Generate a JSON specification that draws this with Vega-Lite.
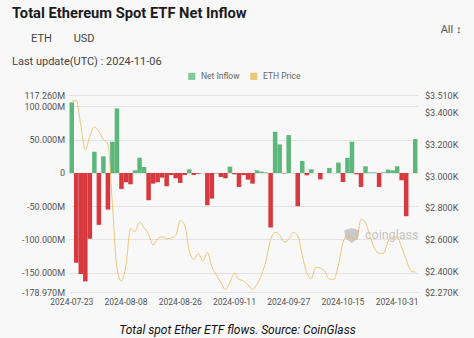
{
  "$schema": "https://vega.github.io/schema/vega-lite/v6.json",
  "width": 348,
  "height": 197,
  "autosize": {"type": "none"},
  "padding": {"left": 69.5, "top": 95, "right": 56.5, "bottom": 46},
  "background": "#f8f8f8",
  "config": {
    "font": "Roboto",
    "view": {"stroke": null}
  },
  "title": {
    "text": "Total Ethereum Spot ETF Net Inflow",
    "subtitle": ["\u200b\u00a0\u00a0\u00a0\u00a0\u00a0\u00a0\u00a0ETH\u00a0\u00a0\u00a0\u00a0\u00a0\u00a0\u00a0\u00a0USD", "Last update(UTC) : 2024-11-06"],
    "anchor": "start",
    "frame": "group",
    "dx": -57.5,
    "dy": 56,
    "fontSize": 14.7,
    "fontWeight": "bold",
    "color": "#1b1b1b",
    "subtitleFontSize": 11,
    "subtitleColor": "#444444",
    "subtitlePadding": 12,
    "subtitleLineHeight": 23,
    "offset": 12
  },
  "data": {
    "values": [
      {"d": "2024-07-23", "flow": 106, "price": 3470},
      {"d": "2024-07-24", "flow": -135, "price": 3475},
      {"d": "2024-07-25", "flow": -152, "price": 3320},
      {"d": "2024-07-26", "flow": -163, "price": 3165},
      {"d": "2024-07-29", "flow": -99, "price": 3250},
      {"d": "2024-07-30", "flow": 32, "price": 3310},
      {"d": "2024-07-31", "flow": -78, "price": 3280},
      {"d": "2024-08-01", "flow": 25, "price": 3230},
      {"d": "2024-08-02", "flow": -55, "price": 3200},
      {"d": "2024-08-05", "flow": 47, "price": 2820},
      {"d": "2024-08-06", "flow": 97, "price": 2420},
      {"d": "2024-08-07", "flow": -24, "price": 2340},
      {"d": "2024-08-08", "flow": -14, "price": 2440},
      {"d": "2024-08-09", "flow": -17, "price": 2670},
      {"d": "2024-08-12", "flow": 4, "price": 2650},
      {"d": "2024-08-13", "flow": 23, "price": 2710},
      {"d": "2024-08-14", "flow": 9, "price": 2675},
      {"d": "2024-08-15", "flow": -41, "price": 2635},
      {"d": "2024-08-16", "flow": -16, "price": 2566},
      {"d": "2024-08-19", "flow": -14, "price": 2605},
      {"d": "2024-08-20", "flow": -7, "price": 2618},
      {"d": "2024-08-21", "flow": -20, "price": 2605},
      {"d": "2024-08-22", "flow": -3, "price": 2610},
      {"d": "2024-08-23", "flow": -8, "price": 2625},
      {"d": "2024-08-26", "flow": -15, "price": 2720},
      {"d": "2024-08-27", "flow": -3, "price": 2690},
      {"d": "2024-08-28", "flow": 5.5, "price": 2530},
      {"d": "2024-08-29", "flow": -3, "price": 2475},
      {"d": "2024-08-30", "flow": -1, "price": 2512},
      {"d": "2024-09-02", "flow": 0, "price": 2465},
      {"d": "2024-09-03", "flow": -48.5, "price": 2520},
      {"d": "2024-09-04", "flow": -38.5, "price": 2430},
      {"d": "2024-09-05", "flow": -0.5, "price": 2375},
      {"d": "2024-09-06", "flow": -6, "price": 2330},
      {"d": "2024-09-09", "flow": -8, "price": 2285},
      {"d": "2024-09-10", "flow": 9.5, "price": 2330},
      {"d": "2024-09-11", "flow": -2, "price": 2390},
      {"d": "2024-09-12", "flow": -21, "price": 2350},
      {"d": "2024-09-13", "flow": -3, "price": 2340},
      {"d": "2024-09-16", "flow": -10, "price": 2315},
      {"d": "2024-09-17", "flow": -16, "price": 2285},
      {"d": "2024-09-18", "flow": 4, "price": 2320},
      {"d": "2024-09-19", "flow": 2, "price": 2380},
      {"d": "2024-09-20", "flow": 1, "price": 2470},
      {"d": "2024-09-23", "flow": -82, "price": 2600},
      {"d": "2024-09-24", "flow": 62, "price": 2645},
      {"d": "2024-09-25", "flow": 43, "price": 2630},
      {"d": "2024-09-26", "flow": -0.5, "price": 2585},
      {"d": "2024-09-27", "flow": 57, "price": 2600},
      {"d": "2024-09-30", "flow": 0, "price": 2645},
      {"d": "2024-10-01", "flow": -50, "price": 2625},
      {"d": "2024-10-02", "flow": 18, "price": 2500},
      {"d": "2024-10-03", "flow": -3.5, "price": 2390},
      {"d": "2024-10-04", "flow": 5.6, "price": 2355},
      {"d": "2024-10-07", "flow": 0, "price": 2425},
      {"d": "2024-10-08", "flow": -9.6, "price": 2420},
      {"d": "2024-10-09", "flow": 0, "price": 2400},
      {"d": "2024-10-10", "flow": 7.6, "price": 2350},
      {"d": "2024-10-11", "flow": 0, "price": 2350},
      {"d": "2024-10-14", "flow": 15.6, "price": 2440},
      {"d": "2024-10-15", "flow": -13.6, "price": 2580},
      {"d": "2024-10-16", "flow": 22.7, "price": 2625},
      {"d": "2024-10-17", "flow": 47, "price": 2610},
      {"d": "2024-10-18", "flow": -2, "price": 2600},
      {"d": "2024-10-21", "flow": -21, "price": 2728},
      {"d": "2024-10-22", "flow": 10, "price": 2705},
      {"d": "2024-10-23", "flow": 1, "price": 2620},
      {"d": "2024-10-24", "flow": 1, "price": 2545},
      {"d": "2024-10-25", "flow": -21, "price": 2514},
      {"d": "2024-10-28", "flow": 1, "price": 2514},
      {"d": "2024-10-29", "flow": 5, "price": 2590},
      {"d": "2024-10-30", "flow": 4, "price": 2618},
      {"d": "2024-10-31", "flow": 10, "price": 2615},
      {"d": "2024-11-01", "flow": -11, "price": 2550},
      {"d": "2024-11-04", "flow": -65, "price": 2475},
      {"d": "2024-11-05", "flow": 0, "price": 2405},
      {"d": "2024-11-06", "flow": 51, "price": 2395}
    ]
  },
  "encoding": {
    "x": {
      "field": "d",
      "type": "ordinal",
      "scale": {"paddingInner": 0, "paddingOuter": 0},
      "axis": {
        "values": ["2024-07-23", "2024-08-08", "2024-08-26", "2024-09-11", "2024-09-27", "2024-10-15", "2024-10-31"],
        "labelAngle": 0,
        "ticks": false,
        "domain": false,
        "grid": false,
        "labelPadding": 5,
        "labelFontSize": 8.5,
        "labelColor": "#555555",
        "title": "Total spot Ether ETF flows. Source: CoinGlass",
        "titleFontStyle": "italic",
        "titleFontWeight": "normal",
        "titleFontSize": 12,
        "titleColor": "#111111",
        "titleX": 167.5,
        "titleY": 37,
        "titleAlign": "center",
        "titleBaseline": "middle"
      }
    }
  },
  "layer": [
    {
      "mark": {"type": "bar"},
      "encoding": {
        "y": {
          "field": "flow",
          "type": "quantitative",
          "scale": {"domain": [-178.97, 117.26], "nice": false, "zero": false},
          "axis": {
            "orient": "left",
            "values": [117.26, 100, 50, 0, -50, -100, -150, -178.97],
            "labelExpr": "datum.value == 0 ? '0' : (datum.value < 0 ? '-' : '') + format(abs(datum.value), '.3f') + 'M'",
            "labelOverlap": false,
            "labelBound": false,
            "labelFlush": false,
            "title": "",
            "domain": false,
            "ticks": false,
            "labelPadding": 5,
            "labelFontSize": 9,
            "labelColor": "#555555",
            "grid": true,
            "gridColor": "#e2e2e2"
          }
        },
        "color": {
          "condition": {"test": "datum.flow < 0", "value": "#d8393f"},
          "datum": "Net Inflow",
          "type": "nominal",
          "scale": {"domain": ["Net Inflow", "ETH Price"], "range": ["#5cb87a", "#e9b54f"]},
          "legend": {
            "title": null,
            "orient": "none",
            "legendX": 118,
            "legendY": -23,
            "direction": "horizontal",
            "symbolType": "square",
            "symbolSize": 50,
            "symbolStrokeWidth": 0,
            "labelFontSize": 8.5,
            "labelColor": "#666666",
            "columnPadding": 9,
            "labelOffset": 5
          }
        }
      }
    },
    {
      "data": {"values": [{"label": "logo"}]},
      "mark": {"type": "point", "shape": "M-1,-0.7L0,-1L1,-0.7L0.85,0.4L0,1L-0.85,0.4Z", "filled": true, "color": "#c9c9c9", "opacity": 1, "size": 220},
      "encoding": {
        "x": {"datum": "2024-10-17"},
        "y": {"datum": -94, "type": "quantitative", "scale": {"domain": [-178.97, 117.26], "nice": false, "zero": false}, "axis": null},
        "xOffset": {"value": 2}
      }
    },
    {
      "data": {"values": [{"label": "coinglass"}]},
      "mark": {"type": "text", "align": "left", "baseline": "middle", "dx": 4, "fontSize": 12.5, "color": "#c6c6c6"},
      "encoding": {
        "x": {"datum": "2024-10-21"},
        "y": {"datum": -94, "type": "quantitative", "scale": {"domain": [-178.97, 117.26], "nice": false, "zero": false}, "axis": null},
        "text": {"field": "label"}
      }
    },
    {
      "mark": {"type": "line", "interpolate": "monotone", "strokeWidth": 1, "opacity": 0.75},
      "encoding": {
        "y": {
          "field": "price",
          "type": "quantitative",
          "scale": {"domain": [2270, 3510], "nice": false, "zero": false},
          "axis": {
            "orient": "right",
            "values": [3510, 3400, 3200, 3000, 2800, 2600, 2400, 2270],
            "labelExpr": "'$' + format(datum.value / 1000, '.3f') + 'K'",
            "labelOverlap": false,
            "labelBound": false,
            "domain": false,
            "ticks": false,
            "grid": false,
            "labelPadding": 7,
            "labelFontSize": 9,
            "labelColor": "#555555",
            "title": "All \u2195",
            "titleAngle": 0,
            "titleX": 33,
            "titleY": -66,
            "titleAlign": "center",
            "titleBaseline": "middle",
            "titleFontSize": 11,
            "titleFontWeight": "normal",
            "titleColor": "#555555"
          }
        },
        "color": {"datum": "ETH Price", "type": "nominal"}
      }
    }
  ],
  "resolve": {"scale": {"y": "independent"}}
}
